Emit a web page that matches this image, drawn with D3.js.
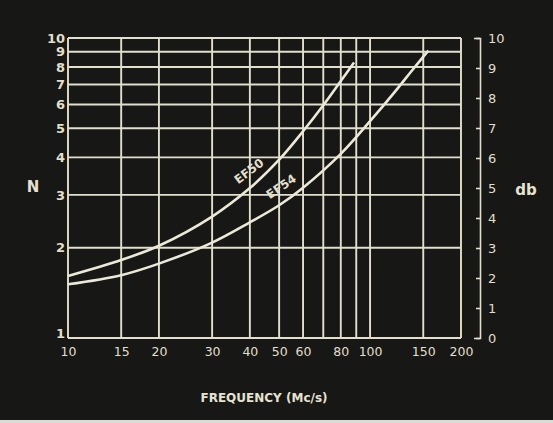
<!DOCTYPE html>
<html>
<head>
<meta charset="utf-8">
<script src="https://cdn.jsdelivr.net/npm/d3@7"></script>
<style>
  body { margin: 0; background: #ffffff; }
  text { font-family: "DejaVu Sans", sans-serif; fill: #e6e3d3; }
</style>
</head>
<body>
<svg id="chart" width="553" height="423"></svg>
<script>
// values
const freqTicks = [10, 15, 20, 30, 40, 50, 60, 80, 100, 150, 200];
const freqGrid = [10, 15, 20, 30, 40, 50, 60, 70, 80, 90, 100, 150, 200];
const nTicks = [1, 2, 3, 4, 5, 6, 7, 8, 9, 10];
const dbTicks = [0, 1, 2, 3, 4, 5, 6, 7, 8, 9, 10];

const ef50Freq = [10, 15, 20, 30, 40, 50, 60, 70, 80, 88.5];
const ef50N = [1.61, 1.82, 2.03, 2.54, 3.16, 3.93, 4.89, 5.97, 7.19, 8.28];
const ef54Freq = [10, 15, 20, 30, 40, 50, 60, 80, 100, 120, 140, 156];
const ef54N = [1.51, 1.62, 1.77, 2.08, 2.43, 2.77, 3.17, 4.11, 5.28, 6.56, 7.96, 9.08];

const ink = '#e2dfcc';

const svg = d3.select('#chart');
const width = +svg.attr('width');
const height = +svg.attr('height');
const margin = { top: 38, right: 92, bottom: 85, left: 68 };

// dark photographic background
svg.append('rect').attr('width', width).attr('height', height).attr('fill', '#171716');
svg.append('rect').attr('y', height - 3).attr('width', width).attr('height', 3).attr('fill', '#dcdcd6');

const x = d3.scaleLog().domain([10, 200]).range([margin.left, width - margin.right]);
const y = d3.scaleLog().domain([1, 10]).range([height - margin.bottom, margin.top]);
const yDb = d3.scaleLinear().domain([0, 10]).range([height - margin.bottom, margin.top]);

// grid
const grid = svg.append('g').attr('stroke', ink).attr('stroke-width', 1.9);
grid.selectAll('.vx').data(freqGrid).join('line')
    .attr('x1', d => x(d)).attr('x2', d => x(d))
    .attr('y1', y(1)).attr('y2', y(10));
grid.selectAll('.hy').data(nTicks).join('line')
    .attr('y1', d => y(d)).attr('y2', d => y(d))
    .attr('x1', x(10)).attr('x2', x(200));

// bottom axis labels
const bottomAxis = d3.axisBottom(x).tickValues(freqTicks).tickFormat(d3.format('d')).tickSize(0).tickPadding(9);
const gx = svg.append('g').attr('transform', `translate(0,${y(1)})`).call(bottomAxis);
gx.select('.domain').remove();
gx.selectAll('text').style('font-size', '12.5px').style('fill', ink);

// left axis labels
const leftAxis = d3.axisLeft(y).tickValues(nTicks).tickFormat(d3.format('d')).tickSize(0).tickPadding(3);
const gy = svg.append('g').attr('transform', `translate(${x(10)},0)`).call(leftAxis);
gy.select('.domain').remove();
gy.selectAll('text').style('font-size', '13px').style('font-weight', 'bold').style('fill', ink);
gy.selectAll('.tick').filter(d => d === 1).select('text').attr('dy', '-0.05em');

// right db axis
const rightAxis = d3.axisRight(yDb).tickValues(dbTicks).tickFormat(d3.format('d')).tickSizeInner(-4).tickSizeOuter(-6).tickPadding(8);
const gd = svg.append('g').attr('transform', `translate(480,0)`).call(rightAxis);
gd.select('.domain').attr('stroke', ink).attr('stroke-width', 1.6);
gd.selectAll('.tick line').attr('stroke', ink).attr('stroke-width', 1.6);
gd.selectAll('text').style('font-size', '13px').style('fill', ink);

// curves
const line = d3.line().x(d => x(d[0])).y(d => y(d[1])).curve(d3.curveCatmullRom.alpha(0.5));
const series = [
  { name: 'EF50', pts: d3.zip(ef50Freq, ef50N), label: [39.7, 3.6], angle: -37 },
  { name: 'EF54', pts: d3.zip(ef54Freq, ef54N), label: [50.8, 3.2], angle: -34 }
];
svg.selectAll('.curve').data(series).join('path')
    .attr('class', 'curve')
    .attr('d', d => line(d.pts))
    .attr('fill', 'none')
    .attr('stroke', '#ece9d8')
    .attr('stroke-width', 2.6);

svg.selectAll('.lbl').data(series).join('text')
    .attr('class', 'lbl')
    .attr('transform', d => `translate(${x(d.label[0])},${y(d.label[1])}) rotate(${d.angle})`)
    .attr('text-anchor', 'middle')
    .attr('dy', '0.35em')
    .style('font-size', '12px')
    .style('font-weight', 'bold')
    .style('fill', ink)
    .text(d => d.name);

// axis titles
svg.append('text').attr('x', 33).attr('y', 192).attr('text-anchor', 'middle')
    .style('font-size', '15px').style('font-weight', 'bold').text('N');
svg.append('text').attr('x', 526).attr('y', 195).attr('text-anchor', 'middle')
    .style('font-size', '15px').style('font-weight', 'bold').text('db');
svg.append('text').attr('x', 264).attr('y', 402).attr('text-anchor', 'middle')
    .style('font-size', '12px').style('font-weight', 'bold').text('FREQUENCY (Mc/s)');
</script>
</body>
</html>
